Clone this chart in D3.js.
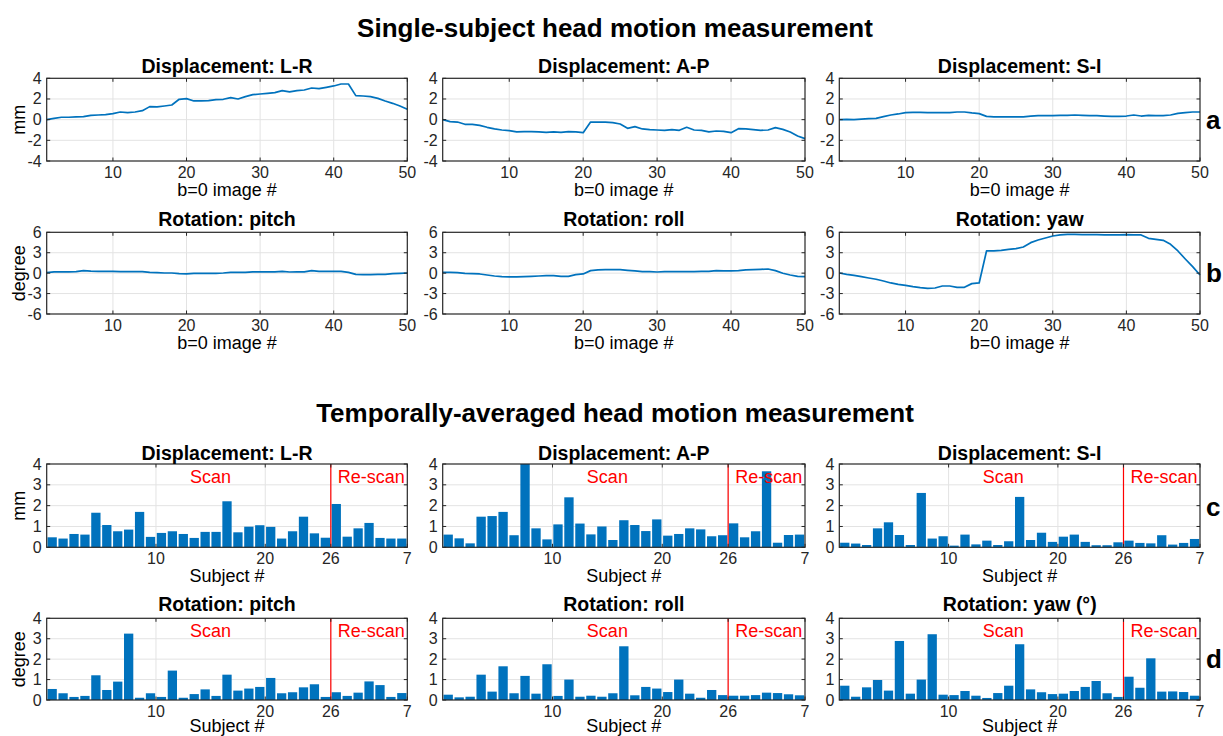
<!DOCTYPE html>
<html><head><meta charset="utf-8">
<script src="https://cdn.jsdelivr.net/npm/d3@7"></script>
<style>
body{margin:0;background:#fff;}
svg{display:block;font-family:"Liberation Sans",Arial,Helvetica,sans-serif;}
</style></head><body>
<svg id="c" width="1223" height="736"></svg>
<script>
// ---------- data ----------
const mainTitles = ["Single-subject head motion measurement", "Temporally-averaged head motion measurement"];
const lineTitles = ["Displacement: L-R", "Displacement: A-P", "Displacement: S-I", "Rotation: pitch", "Rotation: roll", "Rotation: yaw"];
const barTitles = ["Displacement: L-R", "Displacement: A-P", "Displacement: S-I", "Rotation: pitch", "Rotation: roll", "Rotation: yaw (°)"];
const rowLetters = ["a", "b", "c", "d"];
const yLabels = ["mm", "degree", "mm", "degree"];
const lineXLabel = "b=0 image #";
const barXLabel = "Subject #";

const dispLR = [0,0.13,0.23,0.23,0.26,0.29,0.42,0.45,0.48,0.58,0.74,0.68,0.74,0.87,1.26,1.23,1.32,1.42,1.97,2.03,1.81,1.81,1.84,1.94,1.97,2.13,2.0,2.23,2.42,2.48,2.55,2.61,2.81,2.68,2.81,2.87,3.06,3.0,3.13,3.26,3.45,3.45,2.32,2.29,2.23,2.06,1.81,1.58,1.32,1.0];
const dispAP = [0,-0.19,-0.23,-0.45,-0.45,-0.55,-0.74,-0.9,-1.0,-1.06,-1.19,-1.16,-1.16,-1.19,-1.23,-1.19,-1.23,-1.16,-1.19,-1.26,-0.23,-0.23,-0.23,-0.29,-0.42,-0.84,-0.68,-0.9,-0.97,-1.0,-1.03,-0.97,-1.03,-0.74,-1.0,-1.03,-1.19,-1.1,-1.13,-1.26,-0.87,-0.9,-0.97,-1.03,-1.0,-0.77,-0.94,-1.19,-1.58,-1.84];
const dispSI = [0,0.03,0,0.06,0.1,0.13,0.29,0.45,0.55,0.68,0.71,0.71,0.68,0.68,0.68,0.68,0.74,0.74,0.65,0.58,0.32,0.26,0.26,0.26,0.26,0.26,0.35,0.39,0.39,0.39,0.42,0.42,0.45,0.42,0.39,0.39,0.35,0.32,0.32,0.35,0.45,0.35,0.42,0.39,0.39,0.45,0.61,0.68,0.74,0.74];
const rotPitch = [0.07,0.2,0.2,0.2,0.22,0.37,0.3,0.27,0.27,0.27,0.22,0.22,0.22,0.22,0.12,0.07,0.02,0.02,-0.07,-0.12,-0.02,-0.02,-0.02,-0.02,0.02,0.12,0.12,0.12,0.2,0.2,0.2,0.2,0.27,0.17,0.2,0.2,0.37,0.27,0.27,0.27,0.27,0.12,-0.17,-0.22,-0.22,-0.17,-0.17,-0.07,-0.02,0.02];
const rotRoll = [0.12,0.12,0.07,-0.02,-0.07,-0.12,-0.27,-0.42,-0.51,-0.56,-0.56,-0.51,-0.47,-0.42,-0.37,-0.37,-0.47,-0.47,-0.22,-0.12,0.37,0.47,0.51,0.51,0.51,0.42,0.32,0.22,0.22,0.17,0.22,0.22,0.22,0.22,0.22,0.27,0.27,0.37,0.32,0.32,0.37,0.47,0.51,0.56,0.61,0.37,-0.02,-0.27,-0.47,-0.51];
const rotYaw = [0.02,-0.17,-0.32,-0.51,-0.71,-0.9,-1.15,-1.44,-1.64,-1.79,-1.98,-2.13,-2.23,-2.18,-1.89,-1.89,-2.08,-2.08,-1.54,-1.44,3.26,3.26,3.35,3.5,3.6,3.84,4.48,4.87,5.17,5.46,5.61,5.7,5.7,5.66,5.66,5.66,5.61,5.61,5.61,5.66,5.61,5.61,5.12,4.97,4.82,4.24,3.26,2.08,0.95,-0.27];

const barLR = [0.48,0.42,0.64,0.61,1.66,1.07,0.77,0.85,1.7,0.5,0.69,0.77,0.64,0.45,0.74,0.74,2.21,0.72,0.99,1.06,0.98,0.42,0.77,1.47,0.67,0.46,2.08,0.51,0.91,1.17,0.45,0.42,0.42];
const barAP = [0.61,0.43,0.19,1.47,1.5,1.7,0.58,4.0,0.91,0.38,1.1,2.4,1.14,0.62,1.0,0.35,1.3,1.07,0.78,1.34,0.56,0.64,0.91,0.86,0.53,0.58,1.15,0.48,0.77,3.65,0.22,0.59,0.61];
const barSI = [0.22,0.18,0.11,0.91,1.2,0.59,0.11,2.61,0.42,0.53,0.08,0.61,0.14,0.32,0.11,0.29,2.42,0.35,0.7,0.26,0.51,0.61,0.26,0.1,0.1,0.24,0.32,0.21,0.19,0.58,0.13,0.21,0.4];
const barPitch = [0.54,0.33,0.15,0.2,1.21,0.49,0.9,3.25,0.11,0.33,0.15,1.44,0.11,0.29,0.52,0.2,1.24,0.46,0.56,0.64,1.08,0.33,0.38,0.62,0.77,0.15,0.38,0.2,0.36,0.91,0.73,0.15,0.34];
const barRoll = [0.26,0.13,0.16,1.24,0.41,1.65,0.33,1.18,0.31,1.75,0.2,1.0,0.16,0.21,0.16,0.33,2.63,0.23,0.64,0.56,0.39,1.0,0.31,0.11,0.49,0.24,0.21,0.21,0.24,0.36,0.34,0.28,0.23];
const barYaw = [0.7,0.16,0.62,0.98,0.46,2.89,0.31,1.0,3.22,0.26,0.24,0.44,0.21,0.1,0.34,0.7,2.73,0.52,0.38,0.29,0.31,0.44,0.64,0.93,0.33,0.15,1.14,0.6,2.04,0.41,0.42,0.39,0.21];

const lineXTicks = [10, 20, 30, 40, 50];
const dispYTicks = [-4, -2, 0, 2, 4];
const rotYTicks = [-6, -3, 0, 3, 6];
const barXTicks = [10, 20, 26, 33];
const barXTickLabels = ["10", "20", "26", "7"];
const barYTicks = [0, 1, 2, 3, 4];
const scanSplit = 26;
const scanLabels = ["Scan", "Re-scan"];

// ---------- layout ----------
const cols = [[46.7, 407.3], [442.7, 805], [839.3, 1200]];
const rows = [[78.3, 161], [232.3, 314], [464, 547.3], [618.3, 700]];
const xLabOff = [34.5, 34.5, 34.5, 31.5];
const BLUE = "#0072BD", AX = "#262626", GRID = "#e3e3e3";

const svg = d3.select("#c");

// main titles
svg.append("text").attr("x", 615).attr("y", 37).attr("text-anchor", "middle")
  .attr("font-size", 26).attr("font-weight", "bold").attr("fill", "#000").text(mainTitles[0]);
svg.append("text").attr("x", 615).attr("y", 422).attr("text-anchor", "middle")
  .attr("font-size", 26).attr("font-weight", "bold").attr("fill", "#000").text(mainTitles[1]);

function frame(g, x, y, xTicks, yTicks) {
  const [x0, x1] = x.range(); const [y0, y1] = y.range(); // y0 bottom
  g.append("g").selectAll("line").data(xTicks.filter(t => x(t) > x0 + 1 && x(t) < x1 - 1)).join("line")
    .attr("x1", d => x(d)).attr("x2", d => x(d)).attr("y1", y1).attr("y2", y0)
    .attr("stroke", GRID).attr("stroke-width", 1);
  g.append("g").selectAll("line").data(yTicks.filter(t => y(t) < y0 - 1 && y(t) > y1 + 1)).join("line")
    .attr("x1", x0).attr("x2", x1).attr("y1", d => y(d)).attr("y2", d => y(d))
    .attr("stroke", GRID).attr("stroke-width", 1);
}
function decorate(g, x, y, xTicks, yTicks, xLabels) {
  const [x0, x1] = x.range(); const [y0, y1] = y.range();
  const tl = 3.5;
  xTicks.forEach(t => {
    g.append("line").attr("x1", x(t)).attr("x2", x(t)).attr("y1", y0).attr("y2", y0 - tl).attr("stroke", AX);
    g.append("line").attr("x1", x(t)).attr("x2", x(t)).attr("y1", y1).attr("y2", y1 + tl).attr("stroke", AX);
  });
  yTicks.forEach(t => {
    g.append("line").attr("x1", x0).attr("x2", x0 + tl).attr("y1", y(t)).attr("y2", y(t)).attr("stroke", AX);
    g.append("line").attr("x1", x1).attr("x2", x1 - tl).attr("y1", y(t)).attr("y2", y(t)).attr("stroke", AX);
  });
  g.append("rect").attr("x", x0).attr("y", y1).attr("width", x1 - x0).attr("height", y0 - y1)
    .attr("fill", "none").attr("stroke", AX).attr("stroke-width", 1.2);
  g.append("g").selectAll("text").data(xTicks).join("text")
    .attr("x", d => x(d)).attr("y", y0 + 17).attr("text-anchor", "middle")
    .attr("font-size", 16).attr("fill", AX).text((d, i) => xLabels[i]);
  g.append("g").selectAll("text").data(yTicks).join("text")
    .attr("x", x0 - 5).attr("y", d => y(d) + 5.5).attr("text-anchor", "end")
    .attr("font-size", 16).attr("fill", AX).text(d => d);
}

function title(g, x, yTop, txt, off) {
  const [x0, x1] = x.range();
  g.append("text").attr("x", (x0 + x1) / 2).attr("y", yTop - off).attr("text-anchor", "middle")
    .attr("font-size", 19.5).attr("font-weight", "bold").attr("fill", "#000").text(txt);
}
function xlab(g, x, yBot, txt, off) {
  const [x0, x1] = x.range();
  g.append("text").attr("x", (x0 + x1) / 2).attr("y", yBot + off).attr("text-anchor", "middle")
    .attr("font-size", 18).attr("fill", "#000").text(txt);
}

const lineSeries = [dispLR, dispAP, dispSI, rotPitch, rotRoll, rotYaw];
const barSeries = [barLR, barAP, barSI, barPitch, barRoll, barYaw];
const titleOff = [5, 6, 4, 7];

// line panels
lineSeries.forEach((vals, k) => {
  const r = Math.floor(k / 3), c = k % 3;
  const x = d3.scaleLinear().domain([1, 50]).range(cols[c]);
  const yt = r === 0 ? dispYTicks : rotYTicks;
  const y = d3.scaleLinear().domain([yt[0], yt[yt.length - 1]]).range([rows[r][1], rows[r][0]]);
  const g = svg.append("g");
  frame(g, x, y, lineXTicks, yt);
  g.append("path").datum(vals)
    .attr("d", d3.line().x((d, i) => x(i + 1)).y(d => y(d)))
    .attr("fill", "none").attr("stroke", BLUE).attr("stroke-width", 1.7).attr("stroke-linejoin", "round");
  decorate(g, x, y, lineXTicks, yt, lineXTicks.map(String));
  title(g, x, rows[r][0], lineTitles[k], titleOff[r]);
  xlab(g, x, rows[r][1], lineXLabel, xLabOff[r]);
});

// bar panels
barSeries.forEach((vals, k) => {
  const r = 2 + Math.floor(k / 3), c = k % 3;
  const x = d3.scaleLinear().domain([0, vals.length]).range(cols[c]);
  const y = d3.scaleLinear().domain([0, 4]).range([rows[r][1], rows[r][0]]);
  const g = svg.append("g");
  frame(g, x, y, barXTicks, barYTicks);
  const band = d3.scaleBand().domain(d3.range(vals.length)).range(cols[c]).paddingInner(0.15).paddingOuter(0.075);
  g.append("g").selectAll("rect").data(vals).join("rect")
    .attr("x", (d, i) => band(i)).attr("width", band.bandwidth())
    .attr("y", d => y(Math.min(d, 4))).attr("height", d => y(0) - y(Math.min(d, 4)))
    .attr("fill", BLUE);
  g.append("line").attr("x1", x(scanSplit)).attr("x2", x(scanSplit))
    .attr("y1", y(4)).attr("y2", y(0)).attr("stroke", "#ff0000").attr("stroke-width", 1.2);
  g.append("text").attr("x", x(15)).attr("y", y(3.1)).attr("text-anchor", "middle")
    .attr("font-size", 18).attr("fill", "#ff0000").text(scanLabels[0]);
  g.append("text").attr("x", x(29.7)).attr("y", y(3.1)).attr("text-anchor", "middle")
    .attr("font-size", 18).attr("fill", "#ff0000").text(scanLabels[1]);
  decorate(g, x, y, barXTicks, barYTicks, barXTickLabels);
  title(g, x, rows[r][0], barTitles[k], titleOff[r]);
  xlab(g, x, rows[r][1], barXLabel, xLabOff[r]);
});

// y labels
rows.forEach((rr, i) => {
  const cy = (rr[0] + rr[1]) / 2;
  svg.append("text").attr("transform", `translate(25,${cy}) rotate(-90)`).attr("text-anchor", "middle")
    .attr("font-size", 18).attr("fill", "#000").text(yLabels[i]);
});
// row letters
const letterY = [129, 282, 516, 668];
rowLetters.forEach((l, i) => {
  svg.append("text").attr("x", 1206).attr("y", letterY[i]).attr("font-size", 26)
    .attr("font-weight", "bold").attr("fill", "#000").text(l);
});
</script>
</body></html>
